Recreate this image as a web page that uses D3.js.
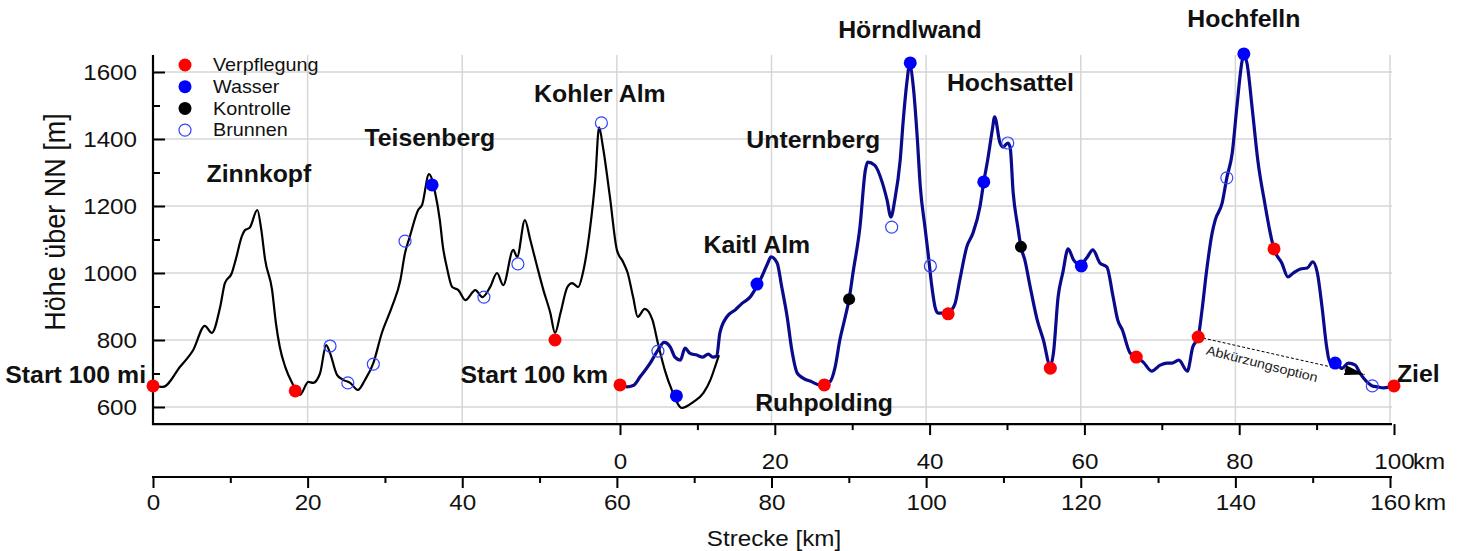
<!DOCTYPE html>
<html><head><meta charset="utf-8">
<script src="https://cdn.jsdelivr.net/npm/d3@7"></script>
<style>
html,body{margin:0;padding:0;background:#fff;}
text{font-family:"Liberation Sans",Arial,sans-serif;}
</style></head>
<body><svg id="c" width="1467" height="551"></svg>
<script>
// ---------- DATA ----------
// 100 mi course profile (km on the 0-160 km axis, elevation m)
const route100miKm = [0,1.3,3.5,5.2,6.7,7.6,8.7,9.3,10.2,10.7,11.5,11.9,12.5,13.5,14.0,14.5,15.4,15.9,16.4,17.1,18.0,19.0,20.1,20.7,21.6,22.4,22.9,23.8,24.6,25.5,26.5,27.4,28.5,29.6,30.9,32.0,32.6,33.2,34.3,34.8,35.7,36.5,37.1,37.5,38.0,38.7,39.5,40.4,41.7,42.6,43.6,44.5,45.3,46.6,47.1,48.1,48.8,49.7,50.5,51.4,52.0,52.7,53.6,54.2,55.0,55.6,56.5,57.2,57.7,58.2,59.1,60.0,60.8,61.4,62.1,62.7,63.6,64.6,65.3,66.2,67.1,68.4,69.9,71.2,72.1,72.7,73.2];
const route100miElev = [663,660,720,770,842,821,900,970,1000,1040,1110,1128,1135,1188,1130,1040,950,850,779,720,672,636,675,672,700,785,761,696,681,672,651,680,731,821,899,979,1060,1107,1188,1203,1295,1239,1158,1078,1018,958,949,919,949,928,958,1000,964,1069,1048,1158,1099,1018,949,880,821,880,958,970,958,1000,1128,1278,1435,1376,1227,1069,1033,1000,928,869,893,860,791,710,651,597,615,642,681,720,755];
// 100 km course profile (km on the 0-100 km axis, elevation m)
const route100kmKm = [0,0.9,1.7,2.6,3.9,4.9,5.7,6.5,7.1,7.8,8.4,9.0,9.9,10.7,11.4,12.0,12.5,12.9,13.8,14.9,15.8,16.8,17.4,18.3,19.1,19.5,20.3,20.9,21.6,22.2,22.9,23.6,24.8,25.8,27.1,27.8,28.4,29.1,29.6,30.1,31.0,31.7,32.0,32.9,33.9,34.5,35.0,35.5,36.2,36.6,37.1,37.4,37.9,38.4,38.8,39.4,39.8,40.3,40.7,41.1,42.0,42.6,43.3,43.9,44.8,45.6,46.5,47.0,47.5,48.1,48.4,49.1,49.5,50.1,50.4,50.8,51.4,51.8,52.3,53.0,53.9,54.7,55.6,56.0,56.6,57.2,57.9,58.6,59.4,60.3,61.1,62.0,62.9,63.7,64.3,64.9,65.9,66.7,67.6,68.7,69.8,70.7,71.3,72.2,73.3,74.0,74.7,75.2,75.8,76.5,76.9,77.8,78.4,79.1,79.7,80.4,80.6,81.0,81.7,82.4,83.3,84.2,84.5,85.5,86.3,87.0,87.9,88.8,89.5,90.1,90.7,91.3,91.7,92.4,93.3,94.1,95.0,95.6,96.5,97.2,97.9,98.6,99.5,100];
const route100kmElev = [666,660,664,690,731,770,793,779,749,740,776,761,755,749,758,749,752,821,869,890,910,928,949,988,1030,1048,1030,958,869,770,701,687,675,666,675,720,800,869,922,1000,1137,1307,1331,1322,1269,1218,1167,1218,1337,1457,1576,1622,1555,1406,1257,1137,1060,958,899,880,880,885,910,979,1078,1119,1197,1272,1337,1427,1466,1388,1376,1388,1376,1239,1137,1078,1039,958,860,800,722,761,928,1000,1072,1039,1025,1045,1069,1030,1018,930,860,830,761,749,734,707,725,731,731,740,707,779,809,890,1009,1119,1158,1209,1284,1358,1496,1636,1652,1627,1487,1337,1209,1099,1072,1030,988,1000,1012,1015,1033,1000,899,779,734,731,716,731,725,701,675,663,660,657,660,663];

// Markers on the 100 mi-only section (km on 0-160 axis)
const verpflegung100miKm = [0,18.4,52.0];
const verpflegung100miElev = [663,648,800];
const wasser100miKm = [36.1,67.7];
const wasser100miElev = [1263,633];
const brunnen100miKm = [22.9,25.2,28.5,32.6,42.8,47.2,58.0];
const brunnen100miElev = [782,672,728,1095,928,1027,1448];
// Markers on the shared 100 km course (km on 0-100 axis)
const verpflegung100kmKm = [0,26.4,42.4,55.6,66.7,74.7,84.5,100];
const verpflegung100kmElev = [666,666,878,716,749,809,1072,663];
const wasser100kmKm = [17.7,37.5,47.0,59.6,80.6,92.4];
const wasser100kmElev = [967,1627,1272,1021,1654,731];
const kontrolle100kmKm = [29.6,51.8];
const kontrolle100kmElev = [922,1078];
const brunnen100kmKm = [4.9,35.1,40.1,50.1,78.4,97.2];
const brunnen100kmElev = [767,1137,1021,1388,1284,663];

// Shortcut option (100 km axis)
const shortcutKm = [74.7,96.2];
const shortcutElev = [809,697];
const shortcutLabel = "Abkürzungsoption";

// Place labels (km on 0-160 axis, elevation, anchor)
const placeNames = ["Zinnkopf","Teisenberg","Kohler Alm","Kaitl Alm","Unternberg","Hörndlwand","Hochsattel","Hochfelln","Ruhpolding","Start 100 mi","Start 100 km","Ziel"];
const placeKm = [13.7,35.8,57.8,78.1,85.4,97.9,110.9,141.1,86.8,-0.9,58.86,160.9];
const placeElev = [1296,1403,1534,1084,1397,1725,1567,1758,612,696,696,699];
const placeAnchor = ["middle","middle","middle","middle","middle","middle","middle","middle","middle","end","end","start"];

const legendLabels = ["Verpflegung","Wasser","Kontrolle","Brunnen"];
const yTicks = [600,800,1000,1200,1400,1600];
const yMinorTicks = [700,900,1100,1300,1500];
const xTicksMi = [0,20,40,60,80,100,120,140,160];
const xMinorMi = [10,30,50,70,90,110,130,150];
const xTicksKm = [0,20,40,60,80,100];
const xMinorKm = [10,30,50,70,90];
const yTitle = "Höhe über NN [m]";
const xTitle = "Strecke [km]";

// ---------- CHART ----------
const svg = d3.select("#c");
const SX = 1.1; // horizontal text stretch
const xMi = d3.scaleLinear().domain([0,160]).range([153,1390]);
const xKm = d3.scaleLinear().domain([0,100]).range([620,1394]);
const y = d3.scaleLinear().domain([600,1600]).range([407,72]);
const yBot = 549, yTop = 1651;
const axisY2 = 477;

function stretch(sel, s){
  const k = s || SX;
  sel.each(function(){
    const x = +this.getAttribute("x") || 0;
    this.setAttribute("transform", `translate(${x},0) scale(${k},1) translate(${-x},0)`);
  });
}

// grid
const grid = svg.append("g");
grid.selectAll("line.h").data(yTicks).join("line")
  .attr("x1", xMi(0)).attr("x2", xMi(160)+2)
  .attr("y1", d=>y(d)).attr("y2", d=>y(d))
  .attr("stroke","#d6d6d6").attr("stroke-width",1.5);
grid.selectAll("line.v").data(xTicksMi.slice(1)).join("line")
  .attr("x1", d=>xMi(d)).attr("x2", d=>xMi(d))
  .attr("y1", y(yTop)).attr("y2", y(yBot))
  .attr("stroke","#d6d6d6").attr("stroke-width",1.5);

// left axis
const gy = svg.append("g").attr("transform",`translate(${xMi(0)},0)`);
gy.call(d3.axisLeft(y).tickValues(yTicks).tickSizeInner(-12).tickSizeOuter(0).tickPadding(16).tickFormat(d3.format("d")));
gy.select(".domain").remove();
gy.selectAll(".tick line").attr("stroke","#000").attr("stroke-width",2);
gy.selectAll(".tick text").attr("font-size",22).attr("fill","#111").attr("font-family","Liberation Sans, Arial").call(stretch);
const gyMinor = svg.append("g").attr("transform",`translate(${xMi(0)},0)`);
gyMinor.call(d3.axisLeft(y).tickValues(yMinorTicks).tickSizeInner(-7).tickSizeOuter(0).tickFormat(""));
gyMinor.select(".domain").remove();
gyMinor.selectAll(".tick line").attr("stroke","#000").attr("stroke-width",2);
svg.append("line").attr("x1",xMi(0)).attr("x2",xMi(0)).attr("y1",y(yTop)).attr("y2",y(yBot)+1)
  .attr("stroke","#000").attr("stroke-width",2.2);
svg.append("line").attr("x1",xMi(0)-1).attr("x2",xMi(160)+2).attr("y1",y(yBot)).attr("y2",y(yBot))
  .attr("stroke","#000").attr("stroke-width",2.2);

// x axes
function xAxis(scale, major, minor, ypos, labelOffset, unitText){
  const g = svg.append("g").attr("transform",`translate(0,${ypos})`);
  g.call(d3.axisBottom(scale).tickValues(major).tickSizeInner(11).tickSizeOuter(0).tickFormat(d3.format("d")));
  g.select(".domain").remove();
  g.selectAll(".tick line").attr("stroke","#000").attr("stroke-width",2);
  g.selectAll(".tick text").attr("font-size",22).attr("fill","#111").attr("y",labelOffset).attr("dy","0.35em")
    .attr("font-family","Liberation Sans, Arial").call(stretch);
  const gm = svg.append("g").attr("transform",`translate(0,${ypos})`);
  gm.call(d3.axisBottom(scale).tickValues(minor).tickSizeInner(6).tickSizeOuter(0).tickFormat(""));
  gm.select(".domain").remove();
  gm.selectAll(".tick line").attr("stroke","#000").attr("stroke-width",2);
  const last = major[major.length-1];
  svg.append("text").attr("x", scale(last)+unitText[1]).attr("y", ypos+labelOffset).attr("dy","0.35em")
    .attr("font-size",22).attr("fill","#111").text(unitText[0]).call(stretch);
}
xAxis(xKm, xTicksKm, xMinorKm, y(yBot), 37, ["km",19]);
svg.append("line").attr("x1",xMi(0)-1).attr("x2",xMi(160)+2).attr("y1",axisY2).attr("y2",axisY2)
  .attr("stroke","#000").attr("stroke-width",2.2);
xAxis(xMi, xTicksMi, xMinorMi, axisY2, 25, ["km",24]);

// titles
svg.append("text").attr("transform",`translate(55,222) rotate(-90) scale(1,${SX})`)
  .attr("text-anchor","middle").attr("dy","0.35em").attr("font-size",27).attr("fill","#111").text(yTitle);
svg.append("text").attr("x",774).attr("y",538).attr("dy","0.35em").attr("text-anchor","middle")
  .attr("font-size",22).attr("fill","#111").text(xTitle).call(stretch);

// profiles
const line = d3.line().curve(d3.curveMonotoneX);
svg.append("path")
  .attr("d", line(route100miKm.map((k,i)=>[xMi(k), y(route100miElev[i])])))
  .attr("fill","none").attr("stroke","#000").attr("stroke-width",2.2).attr("stroke-linejoin","round");
svg.append("path")
  .attr("d", line(route100kmKm.map((k,i)=>[xKm(k), y(route100kmElev[i])])))
  .attr("fill","none").attr("stroke","#0a0a8c").attr("stroke-width",3.2).attr("stroke-linejoin","round");

// shortcut
svg.append("defs").append("marker").attr("id","arr").attr("viewBox","0 0 20 10")
  .attr("refX",20).attr("refY",5).attr("markerWidth",20).attr("markerHeight",10)
  .attr("markerUnits","userSpaceOnUse").attr("orient","auto")
  .append("path").attr("d","M0,0 L20,5 L0,10 Z").attr("fill","#000");
const sx0 = xKm(shortcutKm[0]), sy0 = y(shortcutElev[0]);
const sx1 = xKm(shortcutKm[1]), sy1 = y(shortcutElev[1]);
svg.append("line").attr("x1",sx0).attr("y1",sy0).attr("x2",sx1).attr("y2",sy1)
  .attr("stroke","#000").attr("stroke-width",1).attr("stroke-dasharray","3,2").attr("marker-end","url(#arr)");
const ang = Math.atan2(sy1-sy0, sx1-sx0)*180/Math.PI + 1.5;
svg.append("text").attr("transform",`translate(${(sx0+sx1)/2-18},${(sy0+sy1)/2+3}) rotate(${ang}) scale(${SX},1)`)
  .attr("text-anchor","middle").attr("dy","0.75em").attr("font-size",13).attr("fill","#222").text(shortcutLabel);

// markers
function dots(xs, ys, scale, fill, stroke, r){
  svg.append("g").selectAll("circle").data(xs).join("circle")
    .attr("cx",(d)=>scale(d)).attr("cy",(d,i)=>y(ys[i])).attr("r",r)
    .attr("fill",fill).attr("stroke",stroke).attr("stroke-width",1.2);
}
dots(brunnen100miKm, brunnen100miElev, xMi, "none", "#3344ff", 6);
dots(brunnen100kmKm, brunnen100kmElev, xKm, "none", "#3344ff", 6);
dots(verpflegung100miKm, verpflegung100miElev, xMi, "#ff0000", "none", 6.5);
dots(verpflegung100kmKm, verpflegung100kmElev, xKm, "#ff0000", "none", 6.5);
dots(wasser100miKm, wasser100miElev, xMi, "#0000ff", "none", 6.5);
dots(wasser100kmKm, wasser100kmElev, xKm, "#0000ff", "none", 6.5);
dots(kontrolle100kmKm, kontrolle100kmElev, xKm, "#000", "none", 6);

// place labels
svg.append("g").selectAll("text").data(placeNames).join("text")
  .attr("x",(d,i)=>xMi(placeKm[i])).attr("y",(d,i)=>y(placeElev[i])).attr("dy","0.35em")
  .attr("text-anchor",(d,i)=>placeAnchor[i]).attr("font-size",23).attr("font-weight","bold").attr("fill","#111")
  .text(d=>d).call(stretch, 1.08);

// legend
const legFill = ["#ff0000","#0000ff","#000","none"];
const legStroke = ["none","none","none","#3344ff"];
const lg = svg.append("g");
legendLabels.forEach((t,i)=>{
  const yy = 65 + i*21.7;
  lg.append("circle").attr("cx",185).attr("cy",yy).attr("r",i===3?6:6.5).attr("fill",legFill[i]).attr("stroke",legStroke[i]).attr("stroke-width",1.2);
  lg.append("text").attr("x",213).attr("y",yy).attr("dy","0.35em").attr("font-size",18).attr("fill","#111").text(t).call(stretch);
});
</script></body></html>
